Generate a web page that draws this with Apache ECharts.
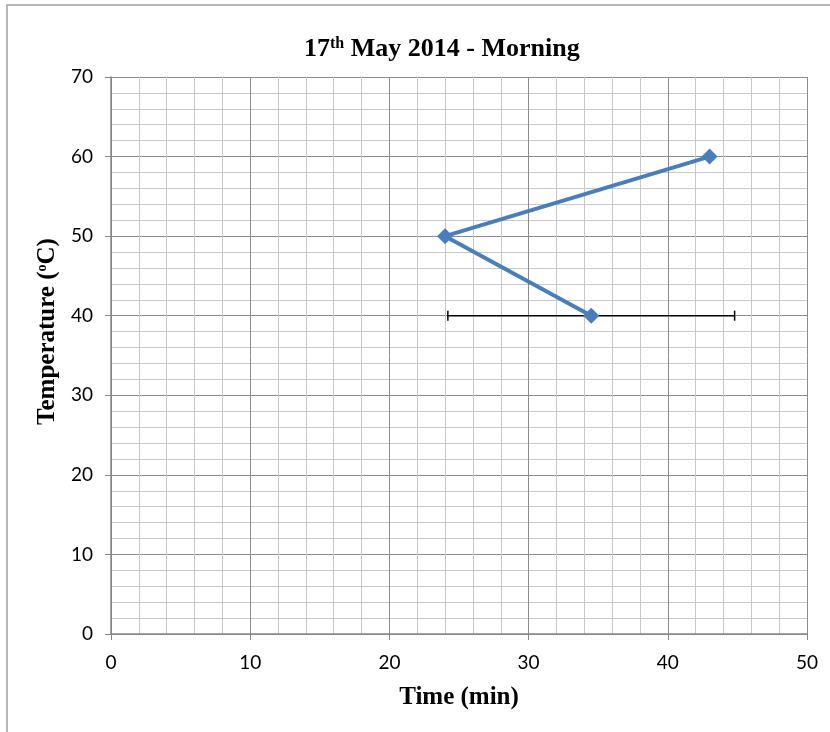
<!DOCTYPE html>
<html>
<head>
<meta charset="utf-8">
<style>
  html, body { margin: 0; padding: 0; background: #fff; }
  #chart { width: 830px; height: 732px; }
</style>
<script src="https://cdn.jsdelivr.net/npm/echarts@6/dist/echarts.min.js"></script>
</head>
<body>
<div id="chart"></div>
<script>
// time (min) and temperature (°C), in the order they are joined
const timeMin = [43, 24, 34.5]
const tempC = [60, 50, 40]
// horizontal error bar on the last point
const errCenter = [34.5, 40]
const errLow = 24.2
const errHigh = 44.8

const chart = echarts.init(document.getElementById('chart'))

const points = timeMin.map((t, i) => [t, tempC[i]])

const option = {
  animation: false,
  backgroundColor: '#fff',
  title: {
    text: '{b|17}{s|th}{b| May 2014 - Morning}',
    left: 299,
    top: 31,
    textStyle: {
      rich: {
        b: { fontFamily: 'Liberation Serif', fontWeight: 'bold', fontSize: 26, color: '#000' },
        s: { fontFamily: 'Liberation Serif', fontWeight: 'bold', fontSize: 16, color: '#000', verticalAlign: 'top', padding: [0, 0, 11, 0] }
      }
    }
  },
  graphic: [{
    type: 'polyline',
    shape: { points: [[7, 732], [7, 5], [830, 5]] },
    style: { stroke: '#a0a0a0', lineWidth: 1.5, fill: null }
  }],
  grid: {
    left: 111,
    right: 23,
    top: 77,
    bottom: 98
  },
  xAxis: {
    type: 'value',
    min: 0,
    max: 50,
    interval: 10,
    name: 'Time (min)',
    nameLocation: 'middle',
    nameGap: 51,
    nameTextStyle: { fontFamily: 'Liberation Serif', fontWeight: 'bold', fontSize: 25, color: '#000' },
    axisLine: { show: true, lineStyle: { color: '#868686', width: 1.5 } },
    axisTick: { show: true, length: 6, lineStyle: { color: '#868686' } },
    axisLabel: { fontFamily: 'Lato', fontSize: 19, color: '#000', margin: 19 },
    splitLine: { show: true, lineStyle: { color: '#8c8c8c', width: 1 } },
    minorTick: { show: false, splitNumber: 5 },
    minorSplitLine: { show: true, lineStyle: { color: '#c8c8c8', width: 1 } }
  },
  yAxis: {
    type: 'value',
    min: 0,
    max: 70,
    interval: 10,
    name: '{t|Temperature (}{s|o}{t|C)}',
    nameLocation: 'middle',
    nameGap: 51,
    nameTextStyle: {
      padding: [0, 0, 0, 48],
      rich: {
        t: { fontFamily: 'Liberation Serif', fontWeight: 'bold', fontSize: 25, color: '#000' },
        s: { fontFamily: 'Liberation Serif', fontWeight: 'bold', fontSize: 14, color: '#000', verticalAlign: 'top', padding: [0, 0, 10, 0] }
      }
    },
    axisLine: { show: true, lineStyle: { color: '#868686', width: 1.5 } },
    axisTick: { show: true, length: 6, lineStyle: { color: '#868686' } },
    axisLabel: { fontFamily: 'Lato', fontSize: 19, color: '#000', margin: 18 },
    splitLine: { show: true, lineStyle: { color: '#8c8c8c', width: 1 } },
    minorTick: { show: false, splitNumber: 5 },
    minorSplitLine: { show: true, lineStyle: { color: '#c8c8c8', width: 1 } }
  },
  series: [
    {
      type: 'custom',
      name: 'error',
      data: [[errCenter[0], errCenter[1], errLow, errHigh]],
      z: 3,
      renderItem: function (params, api) {
        const y = api.value(1)
        const a = api.coord([api.value(2), y])
        const b = api.coord([api.value(3), y])
        const cap = 5
        const st = { stroke: '#000', lineWidth: 1.5 }
        return {
          type: 'group',
          children: [
            { type: 'line', shape: { x1: a[0], y1: a[1], x2: b[0], y2: b[1] }, style: st },
            { type: 'line', shape: { x1: a[0], y1: a[1] - cap, x2: a[0], y2: a[1] + cap }, style: st },
            { type: 'line', shape: { x1: b[0], y1: b[1] - cap, x2: b[0], y2: b[1] + cap }, style: st }
          ]
        }
      }
    },
    {
      type: 'line',
      name: 'temp',
      data: points,
      z: 5,
      symbol: 'diamond',
      symbolSize: 16,
      lineStyle: { color: '#4a7ebb', width: 4 },
      itemStyle: { color: '#4a7ebb' }
    }
  ]
}

chart.setOption(option)
</script>
</body>
</html>
